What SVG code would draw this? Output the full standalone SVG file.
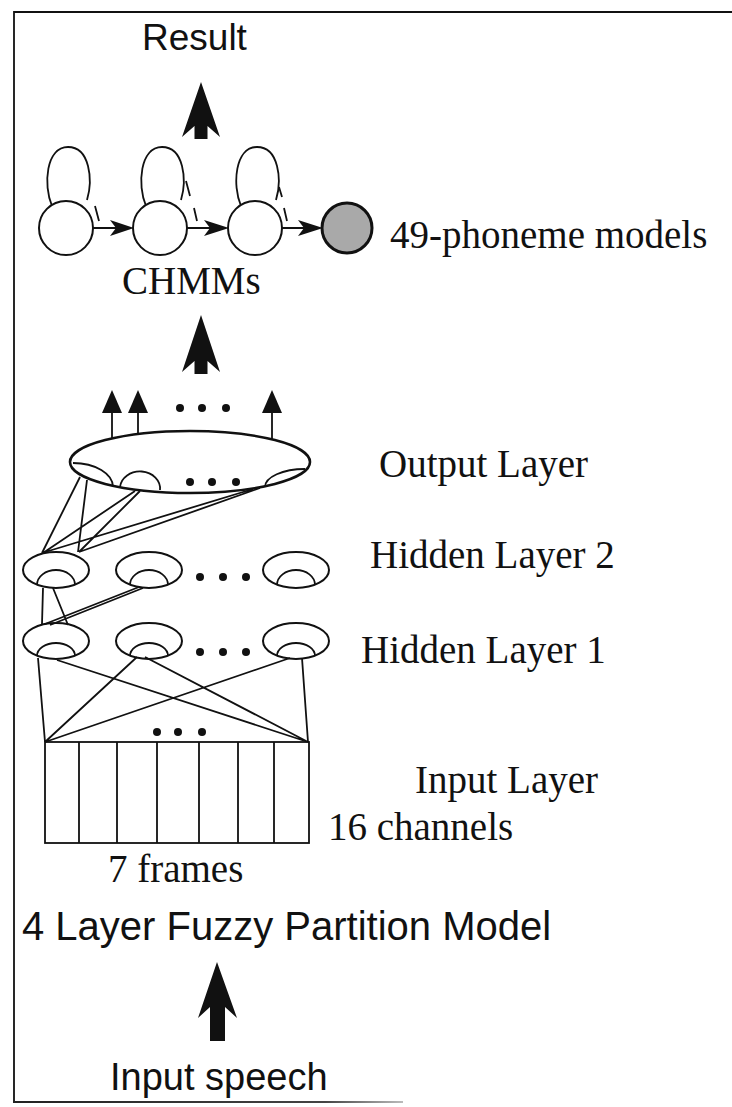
<svg xmlns="http://www.w3.org/2000/svg" width="732" height="1107" viewBox="0 0 732 1107">
  <style>
    .ln { stroke: #111; stroke-width: 1.8; fill: none; }
    .node { stroke: #111; stroke-width: 2; fill: #fff; }
    .cup { stroke: #111; stroke-width: 1.8; fill: none; }
    .dot { fill: #111; }
    .solid { fill: #111; stroke: none; }
    .serif { font-family: "Liberation Serif", "Times New Roman", serif; font-size: 39px; fill: #111; }
    .sans { font-family: "Liberation Sans", Arial, sans-serif; fill: #111; }
  </style>
  <defs>
    <linearGradient id="fade" x1="0" y1="0" x2="1" y2="0">
      <stop offset="0" stop-color="#222"/>
      <stop offset="0.8" stop-color="#444"/>
      <stop offset="1" stop-color="#bbb"/>
    </linearGradient>
  </defs>

  <rect width="732" height="1107" fill="#fff"/>

  <!-- frame -->
  <g id="frame">
    <path d="M14,1102 L14,12 L732,12" class="ln"/>
    <rect x="13" y="1101" width="390" height="2" fill="url(#fade)"/>
  </g>

  <!-- labels -->
  <g id="labels">
    <text class="sans" x="142" y="50" font-size="37">Result</text>
    <text class="serif" x="122" y="294">CHMMs</text>
    <text class="serif" x="390" y="248">49-phoneme models</text>
    <text class="serif" x="379" y="477">Output Layer</text>
    <text class="serif" x="370" y="568">Hidden Layer 2</text>
    <text class="serif" x="361" y="663">Hidden Layer 1</text>
    <text class="serif" x="415" y="793">Input Layer</text>
    <text class="serif" x="328" y="840">16 channels</text>
    <text class="serif" x="108" y="882">7 frames</text>
    <text class="sans" x="22" y="940" font-size="40">4 Layer Fuzzy Partition Model</text>
    <text class="sans" x="110" y="1090" font-size="38">Input speech</text>
  </g>

  <!-- flow arrows -->
  <g id="flow-arrows">
    <path class="solid" d="M201,82 L220,137 L207.5,126 L207.5,139 L194.5,139 L194.5,126 L182,137 Z"/>
    <path class="solid" d="M201,315 L220,372 L207.5,361 L207.5,374 L194.5,374 L194.5,361 L182,372 Z"/>
    <path class="solid" d="M217,962 L237,1018 L225,1007 L225,1041 L210,1041 L210,1007 L198,1018 Z"/>
  </g>

  <!-- CHMM chain: each state with its self-loop -->
  <g id="chmm-state-1">
    <path class="ln" d="M52,206 C43,185 46,147 68,147 C90,147 93,180 87,200"/>
    <circle class="node" cx="66" cy="228" r="27"/>
    <path class="ln" d="M95,206 L99,221"/>
  </g>
  <g id="chmm-state-2">
    <path class="ln" d="M146,206 C137,185 140,147 162,147 C184,147 187,180 181,200"/>
    <circle class="node" cx="160" cy="228" r="27"/>
    <path class="ln" d="M186,181 L190,196 M194,208 L197,221"/>
  </g>
  <g id="chmm-state-3">
    <path class="ln" d="M241,206 C232,185 235,147 257,147 C279,147 282,180 276,200"/>
    <circle class="node" cx="255" cy="228" r="27"/>
    <path class="ln" d="M279,187 L282,197 M284,208 L287,221"/>
  </g>
  <g id="chmm-final">
    <circle cx="347" cy="228" r="25" fill="#a9a9a9" stroke="#111" stroke-width="3"/>
  </g>
  <g id="chmm-transitions">
    <path class="ln" d="M93,228 L128,228 M187,228 L223,228 M282,228 L317,228"/>
    <path class="solid" d="M134,228 L110,220 L116,228 L110,236 Z"/>
    <path class="solid" d="M229,228 L204,220 L210,228 L204,236 Z"/>
    <path class="solid" d="M323,228 L298,220 L304,228 L298,236 Z"/>
  </g>

  <!-- output layer -->
  <g id="output-layer">
    <ellipse cx="190" cy="462" rx="120" ry="31" fill="#fff" stroke="#111" stroke-width="2.6"/>
    <path class="cup" d="M73,463 A40,24 0 0 1 113,487"/>
    <path class="cup" d="M120,487 A20,17 0 0 1 160,490"/>
    <path class="cup" d="M265,487 A40,18 0 0 1 305,469"/>
    <circle class="dot" cx="190" cy="482" r="4"/>
    <circle class="dot" cx="212" cy="482" r="4"/>
    <circle class="dot" cx="236" cy="482" r="4"/>
  </g>
  <g id="output-arrows">
    <path class="ln" d="M112,438 L112,410 M138,434 L138,410 M272,439 L272,410"/>
    <path class="solid" d="M112,390 L122,413 L102,413 Z"/>
    <path class="solid" d="M138,390 L148,413 L128,413 Z"/>
    <path class="solid" d="M272,390 L282,413 L262,413 Z"/>
    <circle class="dot" cx="180" cy="408" r="4"/>
    <circle class="dot" cx="202" cy="408" r="4"/>
    <circle class="dot" cx="226" cy="408" r="4"/>
  </g>

  <!-- hidden layer 2 -->
  <g id="hidden-2">
    <ellipse class="node" cx="56" cy="570" rx="33" ry="18"/>
    <path class="cup" d="M37,585 A19,15 0 0 1 75,585"/>
    <ellipse class="node" cx="149" cy="570" rx="33" ry="18"/>
    <path class="cup" d="M130,585 A19,15 0 0 1 168,585"/>
    <ellipse class="node" cx="296" cy="570" rx="33" ry="18"/>
    <path class="cup" d="M277,585 A19,15 0 0 1 315,585"/>
    <circle class="dot" cx="200" cy="577" r="4"/>
    <circle class="dot" cx="223" cy="577" r="4"/>
    <circle class="dot" cx="246" cy="577" r="4"/>
  </g>

  <!-- hidden layer 1 -->
  <g id="hidden-1">
    <ellipse class="node" cx="56" cy="641" rx="33" ry="18"/>
    <path class="cup" d="M37,656 A19,13 0 0 1 75,656"/>
    <ellipse class="node" cx="149" cy="641" rx="33" ry="18"/>
    <path class="cup" d="M130,656 A19,13 0 0 1 168,656"/>
    <ellipse class="node" cx="296" cy="641" rx="33" ry="18"/>
    <path class="cup" d="M277,656 A19,13 0 0 1 315,656"/>
    <circle class="dot" cx="200" cy="652" r="4"/>
    <circle class="dot" cx="223" cy="652" r="4"/>
    <circle class="dot" cx="246" cy="652" r="4"/>
  </g>

  <!-- input layer: 7 frames x 16 channels -->
  <g id="input-layer">
    <rect x="45" y="742" width="264" height="101" fill="#fff" stroke="#111" stroke-width="1.8"/>
    <path class="ln" d="M79,742 V843 M117,742 V843 M157,742 V843 M199,742 V843 M238,742 V843 M274,742 V843"/>
    <circle class="dot" cx="157" cy="732" r="4"/>
    <circle class="dot" cx="178" cy="732" r="4"/>
    <circle class="dot" cx="202" cy="732" r="4"/>
  </g>

  <!-- weights between layers -->
  <g id="connectors">
    <path class="ln" d="M80,477 L42,553 M87,480 L78,552 M135,491 L43,553 M140,491 L79,552 M253,489 L42,553 M260,488 L79,552"/>
    <path class="ln" d="M43,588 L42,624 M53,588 L68,625 M139,587 L45,624 M143,588 L50,625"/>
    <path class="ln" d="M38,658 L45,742 M57,660 L308,742 M137,657 L45,742 M145,657 L308,742 M290,658 L45,742 M302,658 L308,742"/>
  </g>
</svg>
